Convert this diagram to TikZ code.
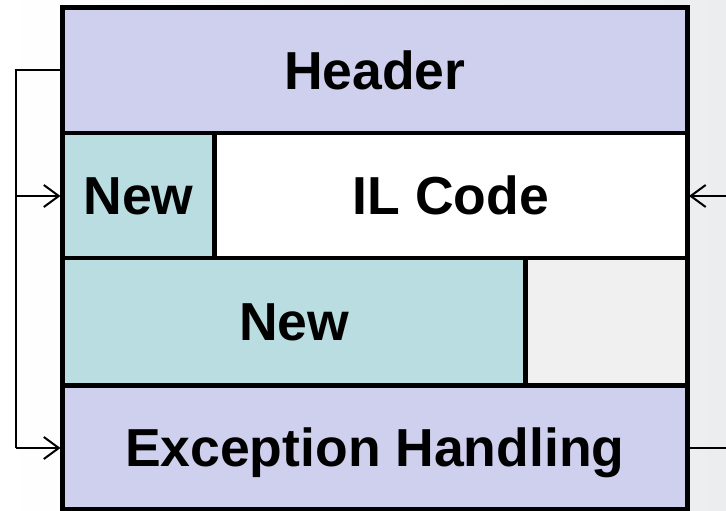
\documentclass[tikz,border=0pt]{standalone}
\usepackage{fontspec}
\setmainfont{Liberation Sans}
\usetikzlibrary{arrows.meta}
\definecolor{hdrfill}{HTML}{CFCFEE}
\definecolor{newfill}{HTML}{B9DDE0}
\definecolor{spare}{HTML}{F0F0F0}
\definecolor{bgedge}{HTML}{ECEDEE}
\tikzset{
  cell/.style={draw=black, line width=4.5pt, inner sep=0pt, outer sep=0pt,
    rectangle, font=\bfseries\fontsize{53.5}{53.5}\selectfont,
    text height=38pt, text depth=0pt},
  link/.style={draw=black, line width=2pt},
  tip/.style={-{Straight Barb[length=15pt,width=22pt,line width=2pt]}, shorten >=2pt}
}
\begin{document}
\begin{tikzpicture}[x=1pt,y=-1pt]
  % page and soft backdrop
  \useasboundingbox (0,0) rectangle (726,511);
  \shade[left color=white, right color=bgedge] (0,0) rectangle (726,511);

  % layout cells
  \node[cell, fill=hdrfill, minimum width=624.5pt, minimum height=125pt]
    (header) at (374.75,70.5) {Header};
  \node[cell, fill=newfill, minimum width=152pt, minimum height=125pt]
    (newa) at (138.5,195.5) {New};
  \node[cell, fill=white, minimum width=472.5pt, minimum height=125pt]
    (ilcode) at (450.75,195.5) {IL Code};
  \node[cell, fill=newfill, minimum width=463pt, minimum height=127.5pt]
    (newb) at (294,321.75) {New};
  \node[cell, fill=spare, minimum width=161.5pt, minimum height=127.5pt]
    (gap) at (606.25,321.75) {};
  \node[cell, fill=hdrfill, minimum width=624.5pt, minimum height=123.5pt]
    (exc) at (374.75,447.25) {Exception Handling};

  % outer frame
  \draw[line width=5pt] (header.north west) rectangle (exc.south east);

  % connectors
  \coordinate (bustop) at (16,70.5);
  \coordinate (busbot) at (16,448);
  \coordinate (inR) at (726,196);
  \coordinate (outR) at (726,448);
  \draw[link] (header.west) -- (bustop) -- (busbot);
  \draw[link, tip] (bustop |- inR) -- (newa.west |- inR);
  \draw[link, tip] (busbot) -- (exc.west |- busbot);
  \draw[link, tip] (inR) -- (ilcode.east |- inR);
  \draw[link] (exc.east |- outR) -- (outR);
\end{tikzpicture}
\end{document}
